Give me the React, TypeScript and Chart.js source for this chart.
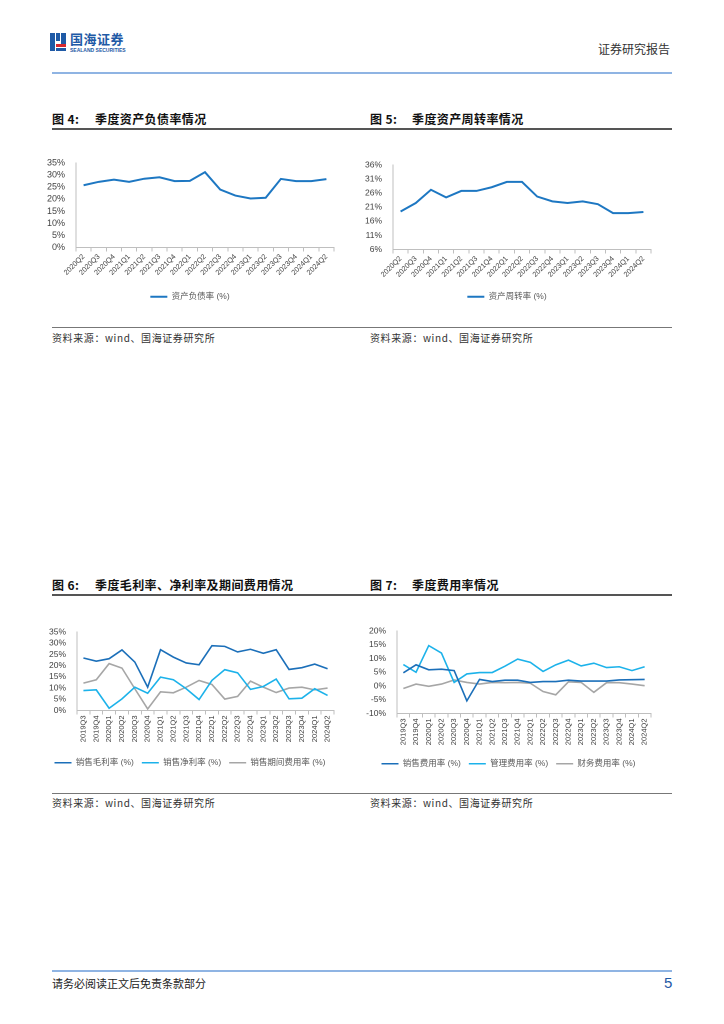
import React, { useEffect, useRef } from "react";
import Chart from "chart.js/auto";

const FONT = 'Arial, "Liberation Sans", "Noto Sans CJK SC", sans-serif';
const CJK = '"Noto Sans CJK SC", "Noto Sans", sans-serif';

// ---- Chart 4: 资产负债率 ----
const quartersA = ["2020Q2","2020Q3","2020Q4","2021Q1","2021Q2","2021Q3","2021Q4","2022Q1","2022Q2","2022Q3","2022Q4","2023Q1","2023Q2","2023Q3","2023Q4","2024Q1","2024Q2"];
const debtRatio = [25.8,27.2,28.1,27.2,28.5,29.1,27.5,27.6,31.2,24.0,21.5,20.3,20.6,28.4,27.5,27.5,28.3];

// ---- Chart 5: 资产周转率 ----
const turnover = [19.5,22.5,27.2,24.5,26.8,26.8,28.1,30.0,30.0,24.8,23.1,22.5,23.1,22.1,18.9,18.9,19.3];

// ---- Chart 6 / 7 quarters ----
const quartersB = ["2019Q3","2019Q4","2020Q1","2020Q2","2020Q3","2020Q4","2021Q1","2021Q2","2021Q3","2021Q4","2022Q1","2022Q2","2022Q3","2022Q4","2023Q1","2023Q2","2023Q3","2023Q4","2024Q1","2024Q2"];
const grossMargin = [23.4,22.0,23.1,27.0,21.6,10.4,27.1,23.8,21.2,20.4,28.9,28.6,26.1,27.3,25.5,27.1,18.3,19.1,20.7,18.6];
const netMargin = [8.9,9.2,1.0,5.2,10.4,7.7,14.9,13.7,9.7,4.9,13.4,18.2,16.8,9.4,10.7,14.0,5.2,5.5,9.7,6.7];
const periodExpense = [12.2,13.7,20.9,18.9,9.7,0.7,8.3,7.9,10.4,13.4,11.6,5.1,6.3,13.1,10.4,8.0,10.0,10.4,9.2,10.0];

const salesExpense = [4.8,7.7,5.9,6.1,5.6,-5.4,2.4,1.6,2.1,2.1,1.3,1.6,1.6,2.1,1.8,1.8,1.8,2.2,2.3,2.4];
const adminExpense = [7.8,5.0,14.7,12.0,1.3,4.4,4.9,4.9,7.2,9.8,8.6,5.3,7.7,9.4,7.3,8.3,6.7,7.0,5.6,7.0];
const financeExpense = [-0.9,0.7,-0.1,0.7,2.2,1.3,0.7,1.3,1.2,1.3,1.0,-2.0,-3.2,1.5,1.3,-2.3,1.2,1.2,0.7,0.1];

const DARK = "#1b6fb9";
const BLUE = "#1d77c2";
const CYAN = "#1cb2ea";
const GRAY = "#a6a6a6";

type DS = { label: string; data: number[]; color: string };

interface LCProps {
  left: number; top: number; width: number; height: number;
  labels: string[]; series: DS[];
  yMin: number; yMax: number; yStep: number;
  rot: number; yw: number; xh: number;
  padTop: number; padRight: number; legendPad: number;
  xFont: number; yFont: number; lineW: number;
}

function LineChart(p: LCProps) {
  const ref = useRef<HTMLCanvasElement>(null);
  useEffect(() => {
    if (!ref.current) return;
    const chart = new Chart(ref.current, {
      type: "line",
      data: {
        labels: p.labels,
        datasets: p.series.map((s) => ({
          label: s.label,
          data: s.data,
          borderColor: s.color,
          backgroundColor: s.color,
          borderWidth: p.lineW,
          pointRadius: 0,
          tension: 0,
          fill: false,
        })),
      },
      options: {
        animation: false,
        responsive: false,
        maintainAspectRatio: false,
        devicePixelRatio: 2,
        layout: { padding: { top: p.padTop, right: p.padRight, left: 0, bottom: 0 } },
        plugins: {
          tooltip: { enabled: false },
          legend: {
            position: "bottom",
            labels: {
              usePointStyle: true,
              pointStyle: "line",
              pointStyleWidth: 17,
              color: "#595959",
              font: { size: 8.5, family: FONT },
              padding: p.legendPad,
            },
          },
        },
        scales: {
          x: {
            offset: true,
            grid: { display: true, drawOnChartArea: false, drawTicks: true, tickLength: 4, color: "#bfbfbf", offset: true },
            border: { display: true, color: "#bfbfbf", width: 1 },
            ticks: {
              autoSkip: false,
              minRotation: p.rot,
              maxRotation: p.rot,
              padding: 1,
              color: "#404040",
              font: { size: p.xFont, family: FONT },
            },
            afterFit: (s: any) => { s.height = p.xh; },
          },
          y: {
            min: p.yMin,
            max: p.yMax,
            grid: { display: false },
            border: { display: true, color: "#bfbfbf", width: 1 },
            ticks: {
              stepSize: p.yStep,
              autoSkip: false,
              padding: 3,
              color: "#404040",
              font: { size: p.yFont, family: FONT },
              callback: (v: any) => `${v}%`,
            },
            afterFit: (s: any) => { s.width = p.yw; },
          },
        },
      },
    } as any);
    return () => chart.destroy();
  }, []);
  return (
    <div style={{ position: "absolute", left: p.left, top: p.top, width: p.width, height: p.height }}>
      <canvas ref={ref} width={p.width} height={p.height} style={{ width: p.width, height: p.height }} />
    </div>
  );
}

const abs = (l: number, t: number, extra: React.CSSProperties = {}): React.CSSProperties => ({
  position: "absolute", left: l, top: t, whiteSpace: "nowrap", ...extra,
});

export default function App() {
  useEffect(() => {
    document.body.style.margin = "0";
    document.body.style.overflow = "hidden";
  }, []);
  const titleStyle: React.CSSProperties = { fontFamily: CJK, fontSize: 12, fontWeight: 700, color: "#111", lineHeight: "14px", letterSpacing: 0.4 };
  const srcStyle: React.CSSProperties = { fontFamily: CJK, fontSize: 10, color: "#333", lineHeight: "12px", letterSpacing: 0.6 };
  return (
    <div style={{ position: "absolute", left: 0, top: 0, width: 724, height: 1024, background: "#fff", overflow: "hidden" }}>
      {/* logo */}
      <div style={abs(50, 33, { width: 5, height: 18, background: "#1f5aa6" })} />
      <div style={abs(56, 33, { width: 4, height: 8, background: "#1f5aa6" })} />
      <div style={abs(61, 33, { width: 5, height: 14, background: "#1f5aa6" })} />
      <div style={abs(56, 44, { width: 10, height: 3, background: "#d7282f" })} />
      <div style={abs(56, 48, { width: 10, height: 3, background: "#1f5aa6" })} />
      <div style={abs(70, 31, { fontFamily: CJK, fontSize: 13, fontWeight: 700, color: "#1f5aa6", lineHeight: "16px", letterSpacing: 0.5 })}>国海证券</div>
      <div style={abs(70, 47, { fontFamily: FONT, fontSize: 5, color: "#1f5aa6", lineHeight: "6px", fontWeight: 700 })}>SEALAND SECURITIES</div>
      <div style={abs(598, 42, { fontFamily: CJK, fontSize: 12, color: "#333", lineHeight: "14px" })}>证券研究报告</div>
      <div style={abs(52, 72, { width: 620, height: 2, background: "#8fb4e3" })} />

      {/* upper titles */}
      <div style={abs(52, 112, titleStyle)}>图 4:</div>
      <div style={abs(95, 112, titleStyle)}>季度资产负债率情况</div>
      <div style={abs(370, 112, titleStyle)}>图 5:</div>
      <div style={abs(412, 112, titleStyle)}>季度资产周转率情况</div>
      <div style={abs(52, 128, { width: 620, height: 1.5, background: "#555" })} />

      <LineChart left={46} top={150} width={294} height={161} labels={quartersA}
        series={[{ label: "资产负债率 (%)", data: debtRatio, color: BLUE }]}
        yMin={0} yMax={35} yStep={5} rot={45} yw={30} xh={36} padTop={13} padRight={6} legendPad={9} xFont={7.3} yFont={9} lineW={2} />
      <LineChart left={363} top={150} width={296} height={161} labels={quartersA}
        series={[{ label: "资产周转率 (%)", data: turnover, color: BLUE }]}
        yMin={6} yMax={36} yStep={5} rot={45} yw={30} xh={34} padTop={15} padRight={8} legendPad={9} xFont={7.3} yFont={8.5} lineW={2} />

      <div style={abs(52, 327, { width: 620, height: 1, background: "#777" })} />
      <div style={abs(52, 332, srcStyle)}>资料来源：wind、国海证券研究所</div>
      <div style={abs(370, 332, srcStyle)}>资料来源：wind、国海证券研究所</div>

      {/* lower titles */}
      <div style={abs(52, 578, titleStyle)}>图 6:</div>
      <div style={abs(95, 578, titleStyle)}>季度毛利率、净利率及期间费用情况</div>
      <div style={abs(370, 578, titleStyle)}>图 7:</div>
      <div style={abs(412, 578, titleStyle)}>季度费用率情况</div>
      <div style={abs(52, 594, { width: 620, height: 1.5, background: "#555" })} />

      <LineChart left={46} top={620} width={294} height={157} labels={quartersB}
        series={[
          { label: "销售毛利率 (%)", data: grossMargin, color: DARK },
          { label: "销售净利率 (%)", data: netMargin, color: CYAN },
          { label: "销售期间费用率 (%)", data: periodExpense, color: GRAY },
        ]}
        yMin={0} yMax={35} yStep={5} rot={90} yw={31} xh={40} padTop={12} padRight={6} legendPad={8} xFont={7.5} yFont={8.5} lineW={1.6} />
      <LineChart left={366} top={620} width={294} height={158} labels={quartersB}
        series={[
          { label: "销售费用率 (%)", data: salesExpense, color: DARK },
          { label: "管理费用率 (%)", data: adminExpense, color: CYAN },
          { label: "财务费用率 (%)", data: financeExpense, color: GRAY },
        ]}
        yMin={-10} yMax={20} yStep={5} rot={90} yw={31} xh={38} padTop={11} padRight={9} legendPad={8} xFont={7.5} yFont={8.5} lineW={1.6} />

      <div style={abs(52, 793, { width: 620, height: 1, background: "#777" })} />
      <div style={abs(52, 797, srcStyle)}>资料来源：wind、国海证券研究所</div>
      <div style={abs(370, 797, srcStyle)}>资料来源：wind、国海证券研究所</div>

      {/* footer */}
      <div style={abs(52, 970, { width: 620, height: 2, background: "#8fb4e3" })} />
      <div style={abs(52, 977, { fontFamily: CJK, fontSize: 11, color: "#222", lineHeight: "13px" })}>请务必阅读正文后免责条款部分</div>
      <div style={abs(664, 974, { fontFamily: FONT, fontSize: 15, color: "#1f5aa6", lineHeight: "17px" })}>5</div>
    </div>
  );
}
